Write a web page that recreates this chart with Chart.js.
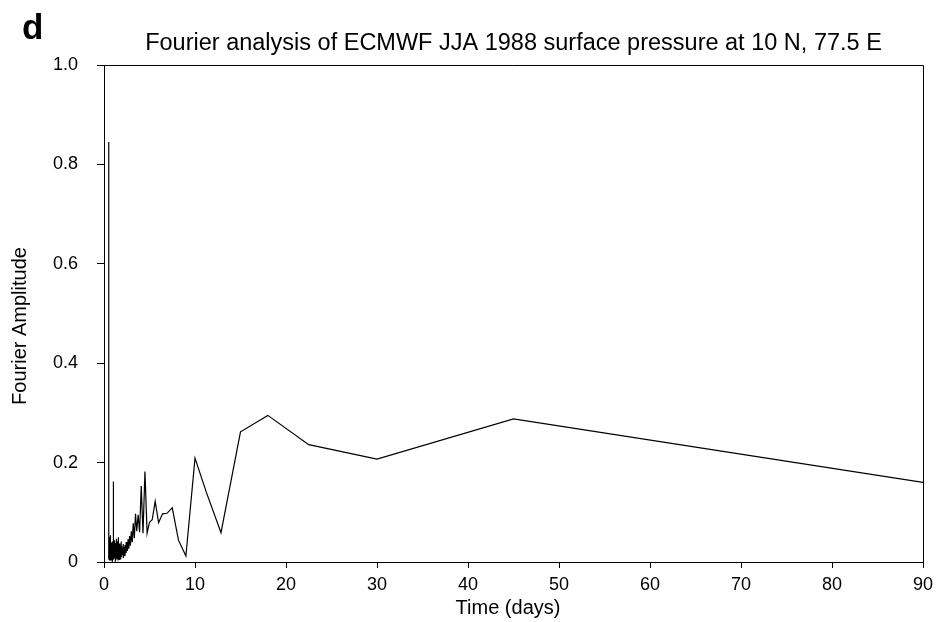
<!DOCTYPE html>
<html>
<head>
<meta charset="utf-8">
<title>Fourier analysis</title>
<script src="https://cdn.jsdelivr.net/npm/chart.js@4.4.1/dist/chart.umd.min.js"></script>
<style>
    body { margin: 0; background: #fff; }
    #wrap { width: 952px; height: 622px; }
</style>
</head>
<body>
<div id="wrap"><canvas id="grafico"></canvas></div>
<script>
// periods are 90/n days for harmonic n = 1..180 of the JJA record
const diasRegistro = 90;

// Fourier amplitude of harmonic n (index 0 -> n = 1)
const amplitude = [
    // n = 1..20
    0.160, 0.288, 0.207, 0.236, 0.295, 0.262, 0.059, 0.140, 0.209, 0.012,
    0.044, 0.109, 0.098, 0.097, 0.079, 0.122, 0.085, 0.080, 0.058, 0.182,
    // n = 21..45
    0.058, 0.153, 0.060, 0.095, 0.062, 0.097, 0.048, 0.078, 0.040, 0.062,
    0.033, 0.052, 0.028, 0.046, 0.022, 0.040, 0.018, 0.034, 0.012, 0.030,
    0.016, 0.036, 0.008, 0.028, 0.014,
    // n = 46..89
    0.032, 0.010, 0.041, 0.006, 0.025, 0.018, 0.037, 0.004, 0.029, 0.012,
    0.045, 0.008, 0.050, 0.015, 0.034, 0.005, 0.042, 0.020, 0.011, 0.047,
    0.009, 0.031, 0.024, 0.006, 0.038, 0.014, 0.027, 0.003, 0.035, 0.019,
    0.044, 0.010, 0.026, 0.007, 0.033, 0.016, 0.040, 0.005, 0.022, 0.013,
    0.036, 0.008, 0.028, 0.045,
    // n = 90 (1 day)
    0.162,
    // n = 91..179
    0.020, 0.006, 0.035, 0.012, 0.028, 0.004, 0.041, 0.015, 0.030, 0.008,
    0.024, 0.002, 0.037, 0.018, 0.011, 0.033, 0.007, 0.026, 0.014, 0.039,
    0.005, 0.022, 0.010, 0.031, 0.003, 0.027, 0.016, 0.009, 0.036, 0.013,
    0.054, 0.006, 0.029, 0.019, 0.044, 0.008, 0.025, 0.011, 0.048, 0.004,
    0.032, 0.015, 0.052, 0.009, 0.038, 0.003, 0.027, 0.017, 0.046, 0.007,
    0.034, 0.012, 0.050, 0.005, 0.030, 0.021, 0.043, 0.010, 0.026, 0.004,
    0.039, 0.014, 0.047, 0.008, 0.023, 0.016, 0.041, 0.006, 0.029, 0.011,
    0.035, 0.003, 0.044, 0.013, 0.025, 0.007, 0.037, 0.018, 0.031, 0.005,
    0.040, 0.012, 0.027, 0.009, 0.046, 0.015, 0.022, 0.006, 0.010,
    // n = 180 (half day)
    0.845
];

const xTicks = [0, 10, 20, 30, 40, 50, 60, 70, 80, 90];
const yTicks = [0, 0.2, 0.4, 0.6, 0.8, 1.0];
const yTickLabels = ['0', '0.2', '0.4', '0.6', '0.8', '1.0'];

const titulo = 'Fourier analysis of ECMWF JJA 1988 surface pressure at 10 N, 77.5 E';
const tituloX = 'Time (days)';
const tituloY = 'Fourier Amplitude';
const letraPainel = 'd';

const fonte = '"Liberation Sans", Arial, Helvetica, sans-serif';

function montarPontos() {
    return amplitude.map((a, i) => ({ x: diasRegistro / (i + 1), y: a }));
}

// frame, panel letter and titles
const textos = {
    id: 'textos',
    afterDraw(chart) {
        const { ctx, chartArea: a } = chart;
        ctx.save();
        ctx.strokeStyle = '#000';
        ctx.lineWidth = 1;
        ctx.beginPath();
        ctx.moveTo(a.left, a.top + 0.5);
        ctx.lineTo(a.right + 0.5, a.top + 0.5);
        ctx.lineTo(a.right + 0.5, a.bottom);
        ctx.stroke();

        ctx.fillStyle = '#000';
        ctx.textBaseline = 'alphabetic';
        ctx.textAlign = 'left';
        ctx.font = 'bold 35px ' + fonte;
        ctx.fillText(letraPainel, 22, 39);

        ctx.textAlign = 'center';
        ctx.font = '23.5px ' + fonte;
        ctx.fillText(titulo, (a.left + a.right) / 2, 50);

        ctx.font = '20px ' + fonte;
        ctx.fillText(tituloX, 508, 614);

        ctx.translate(26, 326);
        ctx.rotate(-Math.PI / 2);
        ctx.fillText(tituloY, 0, 0);
        ctx.restore();
    }
};

function gerarGrafico() {
    const config = {
        type: 'line',
        data: {
            datasets: [{
                data: montarPontos(),
                borderColor: '#000',
                borderWidth: 1.2,
                pointRadius: 0,
                tension: 0,
                fill: false
            }]
        },
        options: {
            responsive: true,
            maintainAspectRatio: false,
            animation: false,
            layout: { padding: { top: 65, right: 29, left: 0, bottom: 0 } },
            plugins: {
                legend: { display: false },
                tooltip: { enabled: false }
            },
            scales: {
                x: {
                    type: 'linear',
                    min: 0,
                    max: 90,
                    afterBuildTicks: s => { s.ticks = xTicks.map(v => ({ value: v })); },
                    afterFit: s => { s.height = 60; },
                    grid: { drawOnChartArea: false, drawTicks: true, tickLength: 6, color: '#000' },
                    border: { display: true, color: '#000', width: 1 },
                    ticks: {
                        color: '#000',
                        font: { family: fonte, size: 18 },
                        padding: 6,
                        maxRotation: 0
                    }
                },
                y: {
                    min: 0,
                    max: 1,
                    afterBuildTicks: s => { s.ticks = yTicks.map(v => ({ value: v })); },
                    afterFit: s => { s.width = 104; },
                    grid: { drawOnChartArea: false, drawTicks: true, tickLength: 7, color: '#000' },
                    border: { display: true, color: '#000', width: 1 },
                    ticks: {
                        color: '#000',
                        font: { family: fonte, size: 18 },
                        padding: 19,
                        callback: (v, i) => yTickLabels[i]
                    }
                }
            }
        },
        plugins: [textos]
    };

    const ctx = document.getElementById('grafico').getContext('2d');
    window.grafico = new Chart(ctx, config);
}

gerarGrafico();
</script>
</body>
</html>
